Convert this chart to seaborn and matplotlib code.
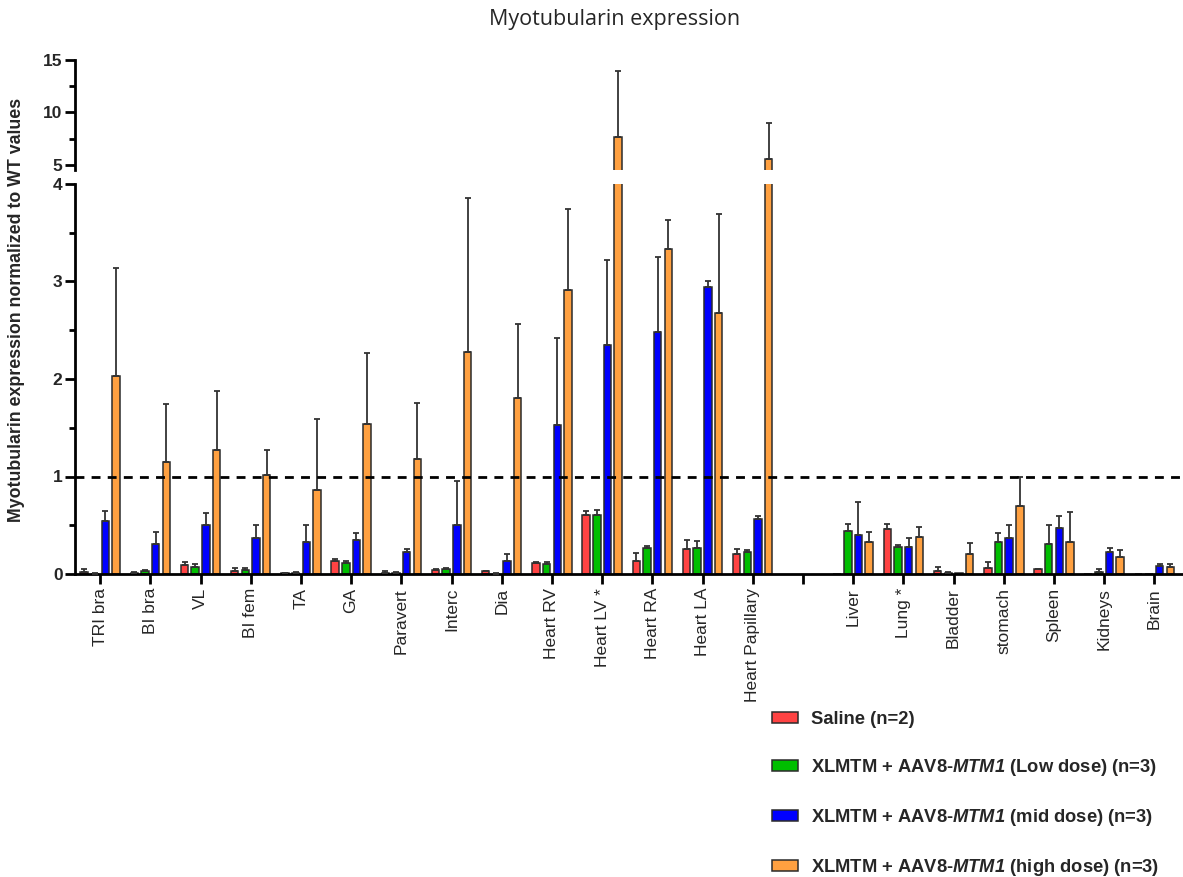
import numpy as np
import pandas as pd
import matplotlib
matplotlib.use("Agg")
import matplotlib.pyplot as plt
from matplotlib.ticker import FixedLocator
import seaborn as sns

# ---------------- data ----------------
muscles = ["TRI bra", "BI bra", "VL", "BI fem", "TA", "GA", "Paravert", "Interc",
           "Dia", "Heart RV", "Heart LV *", "Heart RA", "Heart LA", "Heart Papillary"]
organs = ["Liver", "Lung *", "Bladder", "stomach", "Spleen", "Kidneys", "Brain"]
tissues = muscles + organs

groups = ["Saline (n=2)",
          "XLMTM + AAV8-$\\mathit{MTM1}$ (Low dose) (n=3)",
          "XLMTM + AAV8-$\\mathit{MTM1}$ (mid dose) (n=3)",
          "XLMTM + AAV8-$\\mathit{MTM1}$ (high dose) (n=3)"]
colors = ["#FF4343", "#00BE00", "#0000FF", "#FFA040"]

saline_mean = [0.02, 0.01, 0.09, 0.03, 0.01, 0.137, 0.015, 0.045, 0.03, 0.116, 0.605, 0.133, 0.26, 0.205,
               0.0, 0.458, 0.03, 0.058, 0.048, 0.0, 0.005]
saline_sd = [0.03, 0.01, 0.036, 0.03, 0.005, 0.013, 0.015, 0.005, 0.005, 0.009, 0.038, 0.082, 0.09, 0.051,
             0.0, 0.058, 0.038, 0.065, 0.007, 0.0, 0.0]
low_mean = [0.005, 0.035, 0.075, 0.04, 0.015, 0.11, 0.015, 0.05, 0.005, 0.10, 0.61, 0.267, 0.27, 0.23,
            0.444, 0.274, 0.013, 0.325, 0.311, 0.017, 0.005]
low_sd = [0.005, 0.008, 0.03, 0.02, 0.005, 0.023, 0.01, 0.008, 0.003, 0.026, 0.046, 0.023, 0.065, 0.02,
          0.072, 0.02, 0.007, 0.099, 0.195, 0.031, 0.0]
mid_mean = [0.54, 0.31, 0.50, 0.37, 0.325, 0.35, 0.23, 0.505, 0.133, 1.53, 2.35, 2.48, 2.94, 0.564,
            0.397, 0.274, 0.01, 0.373, 0.475, 0.226, 0.079]
mid_sd = [0.11, 0.12, 0.13, 0.13, 0.175, 0.07, 0.03, 0.452, 0.077, 0.89, 0.87, 0.77, 0.07, 0.031,
          0.345, 0.095, 0.0, 0.133, 0.125, 0.037, 0.021]
high_mean = [2.03, 1.15, 1.27, 1.02, 0.86, 1.54, 1.18, 2.28, 1.81, 2.91, 7.70, 3.33, 2.68, 5.54,
             0.325, 0.383, 0.208, 0.70, 0.328, 0.171, 0.069]
high_sd = [1.11, 0.59, 0.61, 0.25, 0.73, 0.73, 0.57, 1.58, 0.75, 0.83, 6.28, 0.30, 1.01, 3.49,
           0.105, 0.102, 0.112, 0.30, 0.308, 0.075, 0.031]

means = [saline_mean, low_mean, mid_mean, high_mean]
sds = [saline_sd, low_sd, mid_sd, high_sd]

order = muscles + [" "] + organs   # blank slot between muscles and organs

rows = []
for g, m in zip(groups, means):
    for t, v in zip(tissues, m):
        rows.append({"tissue": t, "group": g, "value": v})
df = pd.DataFrame(rows)
sd_lookup = {(g, t): s for g, sl in zip(groups, sds) for t, s in zip(tissues, sl)}

# ---------------- style ----------------
sns.set_style("white")
plt.rcParams["font.family"] = ["Liberation Sans", "DejaVu Sans"]
plt.rcParams["mathtext.fontset"] = "custom"
plt.rcParams["mathtext.it"] = "Liberation Sans:italic:bold"
plt.rcParams["mathtext.rm"] = "Liberation Sans:italic:bold"
plt.rcParams["mathtext.bf"] = "Liberation Sans:italic:bold"

W, H = 1183, 877
fig = plt.figure(figsize=(W / 100, H / 100), dpi=100)
left_px, right_px = 75, 1182
ax_b = fig.add_axes([left_px / W, 1 - 574 / H, (right_px - left_px) / W, 390 / H])
ax_t = fig.add_axes([left_px / W, 1 - 170 / H, (right_px - left_px) / W, 110 / H], sharex=ax_b)

edge = "#2b2b2b"
for ax in (ax_b, ax_t):
    sns.barplot(data=df, x="tissue", y="value", hue="group", order=order, hue_order=groups,
                palette=colors, saturation=1, width=0.85, gap=0.3, errorbar=None, edgecolor=edge,
                linewidth=1.1, ax=ax, legend=(ax is ax_b))
    for g, cont in zip(groups, ax.containers):
        for bar in cont:
            h = bar.get_height()
            if not np.isfinite(h):
                continue
            cx = bar.get_x() + bar.get_width() / 2
            t = order[int(round(cx))]
            s = sd_lookup.get((g, t), 0.0)
            if s > 0:
                ax.errorbar(cx, h, yerr=[[0], [s]], fmt="none", ecolor="#333333",
                            elinewidth=1.3, capsize=2.2, capthick=1.3, zorder=3)

ax_b.set_xlim(-0.5, len(order) - 0.45)
ax_b.set_ylim(0, 4)
ax_t.set_ylim(4.52, 15)

ax_b.axhline(1, color="black", lw=2, ls=(0, (3.2, 2.6)), zorder=4)

for ax in (ax_b, ax_t):
    for sp in ["top", "right"]:
        ax.spines[sp].set_visible(False)
    ax.spines["left"].set_linewidth(2)
    ax.spines["left"].set_color("black")
    ax.set_xlabel("")
    ax.set_ylabel("")
ax_t.spines["bottom"].set_visible(False)
ax_b.spines["bottom"].set_linewidth(2)
ax_b.spines["bottom"].set_color("black")

ax_b.yaxis.set_major_locator(FixedLocator([0, 1, 2, 3, 4]))
ax_b.yaxis.set_minor_locator(FixedLocator([0.5, 1.5, 2.5, 3.5]))
ax_t.yaxis.set_major_locator(FixedLocator([5, 10, 15]))
ax_t.yaxis.set_minor_locator(FixedLocator([7.5, 12.5]))
for ax in (ax_b, ax_t):
    ax.tick_params(axis="y", which="major", direction="out", length=7, width=2, color="black",
                   labelsize=12.5, pad=2, left=True)
    ax.tick_params(axis="y", which="minor", direction="out", length=4, width=2, color="black", left=True)
    for lab in ax.get_yticklabels():
        lab.set_fontweight("bold")
ax_t.tick_params(axis="x", bottom=False, labelbottom=False)
ax_b.tick_params(axis="x", direction="out", length=7, width=2, color="black", bottom=True,
                 labelsize=12.5, pad=3)
ax_b.set_xticks(range(len(order)))
ax_b.set_xticklabels(order, rotation=90)

fig.text(615 / W, 1 - 20 / H, "Myotubularin expression", ha="center", va="center",
         fontsize=15.5, family=["Open Sans", "DejaVu Sans"])
fig.text(17 / W, 1 - 310 / H, "Myotubularin expression normalized to WT values", rotation=90,
         ha="center", va="center", fontsize=12.8, fontweight="bold")

handles, labels = ax_b.get_legend_handles_labels()
ax_b.get_legend().remove()
leg = fig.legend(handles, labels, loc="upper left", bbox_to_anchor=(765 / W, 1 - 704 / H),
                 frameon=False, prop={"weight": "bold", "size": 13.2}, labelspacing=1.58,
                 handlelength=1.38, handleheight=0.56, handletextpad=0.72, borderaxespad=0)

fig.savefig("out.png", dpi=100)
